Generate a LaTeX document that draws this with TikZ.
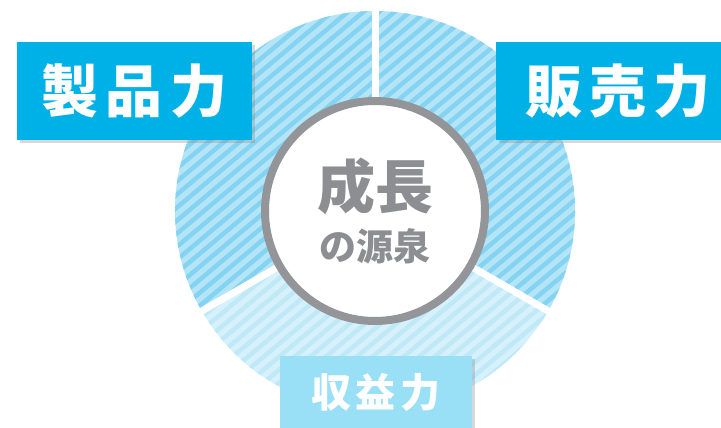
\documentclass[tikz,border=0pt]{standalone}
\usepackage{fontspec}
\setmainfont{Noto Sans CJK JP}
\usetikzlibrary{positioning,shadows}

\definecolor{tagblue}{HTML}{00B1E8}
\definecolor{taglight}{HTML}{99DFF6}
\definecolor{hatchbg}{HTML}{B3E5F7}
\definecolor{hatchfg}{HTML}{85D3F2}
\definecolor{palebg}{HTML}{D6F1FB}
\definecolor{palefg}{HTML}{C0E9F8}
\definecolor{ringgray}{HTML}{949599}
\definecolor{textgray}{HTML}{8D8E91}

\tikzset{
  tagbox/.style={fill=tagblue, text=white, inner sep=0pt,
    font=\fontsize{57}{60}\bfseries\addfontfeatures{LetterSpace=13},
    drop shadow={shadow xshift=3pt, shadow yshift=-3pt, opacity=.3}},
  tagboxlight/.style={tagbox, fill=taglight,
    font=\fontsize{40}{42}\bfseries\addfontfeatures{LetterSpace=11}},
  coretext/.style={text=textgray, inner sep=0pt},
}

\begin{document}
\begin{tikzpicture}[x=1pt,y=1pt]
    \useasboundingbox[fill=white] (0,0) rectangle (721,428);
    %
    \begin{scope}[shift={(375,217)}]
        \foreach \a/\b/\bg/\fg in {-30/90/hatchbg/hatchfg,
                                   90/210/hatchbg/hatchfg,
                                   210/330/palebg/palefg} {
            \begin{scope}
                \clip (0,0) -- (\a:200) arc[start angle=\a, end angle=\b, radius=200] -- cycle;
                \fill[\bg] (-210,-210) rectangle (210,210);
                \begin{scope}[rotate=40]
                    \foreach \c in {-30,...,30}
                        \draw[\fg, line width=4.5pt] (-300,\c*10) -- (300,\c*10);
                \end{scope}
            \end{scope}
        }
        \foreach \a in {90,210,330}
            \draw[white, line width=7pt] (0,0) -- (\a:205);
        %
        \node[circle, draw=ringgray, line width=8pt, fill=white,
              minimum size=220pt, inner sep=0pt] (core) at (0,0) {};
        \node[coretext, font=\fontsize{58}{60}\bfseries] (grow)   at (0,24.5)  {成長};
        \node[coretext, font=\fontsize{37}{40}\bfseries] (source) at (0,-35.5) {の源泉};
    \end{scope}
    %
    \node[tagbox, minimum width=235pt, minimum height=98pt]      (product) at (134.5,337) {製品力};
    \node[tagbox, minimum width=244pt, minimum height=98pt]      (sales)   at (618,337)   {販売力};
    \node[tagboxlight, minimum width=192pt, minimum height=72pt] (profit)  at (376,36)    {収益力};
\end{tikzpicture}
\end{document}
